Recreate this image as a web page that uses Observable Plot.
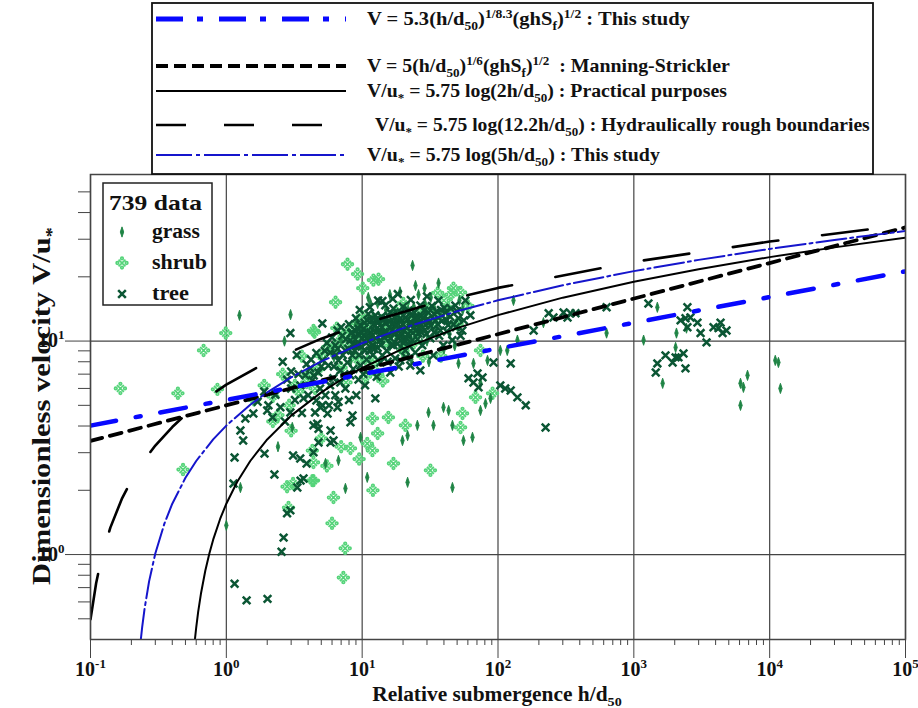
<!DOCTYPE html>
<html><head><meta charset="utf-8">
<script src="https://cdn.jsdelivr.net/npm/d3@7"></script>
<script src="https://cdn.jsdelivr.net/npm/@observablehq/plot@0.6"></script>
<style>
html,body{margin:0;padding:0;background:#fff;overflow:hidden;}
#wrap{position:relative;width:918px;height:708px;overflow:hidden;}
#overlay{position:absolute;left:0;top:0;pointer-events:none;}
text{white-space:pre;}
#wrap svg text.tl{font-family:'Liberation Serif','Times New Roman',serif !important;font-size:20px !important;font-weight:bold !important;fill:#111 !important;}
#wrap svg text.tl tspan.sp{font-size:13px !important;}
</style></head><body><div id="wrap"></div>
<script>
// ---------- data (h/d50, V/u*) ----------
const tree = [
[3.51,6.20],[3.82,6.91],[4.15,7.45],[4.30,6.55],[4.76,7.13],[5.09,8.12],[5.36,5.57],[5.64,7.69],[5.83,8.84],[6.13,6.69],[6.34,9.55],[6.68,8.12],[6.91,7.29],[7.14,10.6],[7.52,9.04],[7.78,7.94],[8.18,10.1],[8.47,8.57],[8.91,11.2],[9.21,9.55],[9.70,11.9],[10.0,10.3],[10.5,9.04],[10.9,12.5],[11.5,11.0],[11.9,9.55],[12.5,13.2],[12.9,11.5],[13.6,10.1],[14.1,8.57],[14.8,12.2],[15.6,10.6],[16.1,13.6],[17.0,9.55],[17.5,11.9],[18.5,10.3],[19.1,12.8],[20.1,11.2],[20.8,9.04],[21.9,13.9],[22.6,11.9],[23.4,10.1],[24.6,12.8],[25.9,10.9],[26.8,14.7],[27.7,9.55],[29.2,11.9],[30.7,13.6],[31.8,10.3],[33.4,8.57],[34.6,12.5],[36.4,15.5],[37.6,11.2],[39.6,9.55],[41.0,13.6],[43.1,11.9],[46.1,10.1],[48.5,14.7],[51.1,12.8],[54.6,11.2],[57.5,15.5],[62.6,13.2],
[8.18,6.91],[9.70,7.69],[11.5,7.29],[13.6,7.94],[16.1,7.13],[19.1,8.12],[22.6,7.69],[26.8,7.29],[7.52,6.00],[9.06,5.57],[10.5,6.20],[12.5,5.39],[24.6,8.84],[17.5,8.30],[14.8,14.7],[13.1,15.5],[6.34,5.57],[5.09,5.00],[4.60,5.27],[4.01,5.57],
[9.3,10.8],[10.2,11.4],[11.2,10.0],[12.1,12.0],[13.0,9.3],[14.4,11.0],[15.2,9.0],[16.6,11.2],[18.0,12.2],[19.6,10.7],[21.3,11.5],[23.0,13.2],[25.2,11.3],[28.0,12.8],[12.0,8.6],[10.8,8.2],[8.6,9.6],[7.2,8.6],[20,14.5],[17,14.2],
[5.5,9.8],[6.0,10.4],[6.6,9.2],[7.0,11.6],[7.6,10.2],[8.0,12.0],[8.4,11.0],[8.8,9.0],[9.0,12.8],[9.5,8.6],[9.9,10.9],[10.4,12.2],[10.7,9.8],[11.1,13.4],[11.8,10.6],[12.3,9.2],[12.7,12.6],[13.3,11.2],[13.9,13.0],[14.6,10.4],[15.0,12.8],[15.9,11.6],[16.4,9.6],[17.3,12.9],[18.2,9.7],[18.8,11.4],[19.9,12.0],[20.5,10.1],[21.6,12.6],[22.2,9.5],[23.8,11.5],[24.2,13.6],[25.6,10.2],[26.3,12.2],[27.2,11.0],[28.6,13.9],[29.8,10.8],[31.2,12.3],[32.6,14.6],[33.9,11.0],[35.4,13.8],[36.9,10.6],[38.5,12.4],[40.2,14.3],[42.0,11.1],[44.5,13.0],[47.3,12.0],[50.0,13.8],[53.0,10.6],[56.0,12.5],
[8.3,10.9],[8.9,10.2],[9.4,11.4],[9.9,9.4],[10.3,10.6],[10.9,11.1],[11.3,9.0],[11.7,12.5],[12.2,11.2],[12.6,10.3],[13.1,12.2],[13.5,10.8],[14.0,11.6],[14.5,12.6],[15.1,11.0],[15.6,13.1],[16.2,10.3],[16.8,12.1],[17.4,11.0],[18.1,13.2],[18.7,10.6],[19.4,12.4],[20.2,9.8],[20.9,12.9],[21.8,10.8],[22.7,12.3],[23.6,10.9],[24.8,12.1],[26.0,11.6],[27.4,13.1],[29.0,11.3],[30.4,12.7],[32.0,11.8],[34.2,13.3],[36.0,12.0],[38.0,14.0],[41.5,12.6],[45.0,14.2],[49.0,11.6],[11.0,10.4],[12.4,11.8],[13.8,9.6],[15.8,12.3],[17.9,11.8],[19.2,13.6],[21.2,10.3],[23.3,12.0],[25.4,12.8],[7.9,9.2],[6.4,8.6],
[4.2,8.2],[4.6,8.8],[5.0,7.6],[5.3,9.0],[3.9,7.8],[4.4,6.9],[5.8,6.2],[6.2,7.6],[6.9,6.4],[7.4,7.0],[8.6,7.4],[9.4,6.6],[10.2,7.0],[12.8,6.8],[15.4,8.0],[18.6,7.6],[21.0,8.4],[3.4,7.0],[3.0,6.0],[3.7,5.4],[4.9,6.0],[5.7,5.0],[6.7,5.2],[8.0,5.3],
[9.6,14.0],[11.4,14.4],[16.8,15.8],[22.8,15.6],[30.0,16.2],[18.3,16.6],
[2.96,10.9],[5.09,12.1],[6.58,11.2],[14.1,15.4],[4.94,4.89],[5.56,4.58],[6.58,4.89],[8.49,4.48],[8.20,4.16],[4.38,4.03],[4.77,3.88],[5.85,3.81],[4.38,3.01],[4.77,3.35],[5.85,3.35],[6.15,3.42],[3.52,2.22],
[60.7,6.69],[66.0,6.40],[71.9,6.07],[76.9,6.76],[70.7,7.06],[104,6.20],[113,6.00],[124,5.87],[139,5.45],[160,5.00],[224,3.94],[124,7.86],[92.7,7.94],[236,13.5],[256,12.9],[304,13.6],[342,13.5],[325,12.9],[372,13.5],[183,11.2],
[630,14.4],[1280,15.0],[2480,14.4],[2210,12.5],[2400,12.8],[2610,12.9],[2940,12.2],[3100,10.9],[3430,9.86],[2480,11.6],[3860,11.6],[4350,12.2],[4500,10.9],[4810,11.2],[4200,11.5],[1710,8.57],[1930,7.94],[2130,8.39],[2320,8.75],[2030,8.39],[1490,7.86],[1450,7.13],[2400,7.45],
[1.15,2.85],[1.91,2.97],[2.26,2.37],[1.13,2.15],[1.15,0.73],[1.41,0.61],[2.01,0.62],[2.64,1.20],[2.55,1.03],[2.80,1.56],[2.96,1.61],[3.33,2.06],[3.70,2.27],[3.10,2.91],[3.50,2.82],[1.27,3.81],[1.33,3.42],[1.38,4.34],[1.58,4.58],[2.00,4.73],[2.04,5.00],[2.19,4.39],[2.96,4.63],[4.50,4.63],[4.67,4.10],[3.90,2.67],[2.6,8.0],[3.0,7.2],[2.8,6.6],[3.3,8.6],
[1.7,5.2],[2.3,5.6],[2.5,4.9],[1.9,5.8],[3.2,5.3],[3.6,4.6],[2.7,4.2]
];
const shrub = [
[7.80,22.9],[6.37,15.2],[0.99,10.9],[4.46,11.0],[9.25,20.6],[12.1,19.3],[13.2,19.5],[10.1,17.7],[47.0,17.7],[53.0,16.9],[20.1,15.0],[4.38,11.2],[11.9,4.34],[15.6,4.39],[20.8,4.03],[13.0,3.69],[54.8,4.58],[53.0,3.94],[10.9,3.31],[11.9,3.07],[17.0,2.67],[31.8,2.48],[8.20,3.14],[6.15,1.85],[4.38,2.22],[74.3,9.04],[68.3,5.45],[91.2,5.69],[0.68,9.04],[0.44,5.69],[0.86,5.94],[0.48,2.50],[2.87,1.66],[2.80,2.08],[3.10,2.15],[4.30,2.22],[4.30,3.07],[4.38,2.70],[0.166,6.00],[7.27,0.78],[7.5,1.07],
[8.0,9.5],[9.0,10.5],[10.5,11.0],[12.0,10.0],[6.0,9.0],[5.0,8.5],[7.0,7.5],[14,12.5],[16,11.5],[18,13.5],[22,12.5],[25,11.0],[30,14.0],[35,13.0],[40,15.5],[45,16.5],[4.0,7.0],[3.6,8.5],[4.5,6.0],[11,8.0],[13,7.0],[20,9.0],[28,8.5],[38,8.5],[50,12.0],[6.5,11.5],[3.2,6.2],[2.6,7.0],[2.2,5.5],[1.9,6.2],[1.6,5.3],[2.4,4.5],[3.0,3.8],[5.0,3.5],[7.0,3.2],[9.5,2.8],[12,2.0],[6.0,1.4],[5.5,2.6],
[8.8,11.8],[10.0,13.0],[11.0,12.0],[7.8,11.0],[9.2,8.2],[12.4,8.0],[15.0,10.0],[17.8,10.8],[21.0,11.0],[24.0,9.8],[26.0,13.5],[33.0,12.0],[6.8,10.0],[5.6,9.4],[4.8,7.4],[3.9,6.4],[3.4,5.8],[2.9,5.0],[2.2,4.2],[7.6,6.4],[10.6,6.8],[14.2,6.5],[43,14.2],[60,14.6],[36,16.8]
];
const grass = [
[1.25,13.2],[2.97,13.3],[2.68,10.0],[23.5,22.6],[24.7,18.2],[28.8,17.7],[36.5,18.7],[11.1,16.0],[11.5,15.0],[30.8,4.63],[39.7,4.89],[43.3,4.73],[46.2,4.03],[74.3,4.73],[33.5,4.03],[25.5,4.03],[19.8,3.42],[21.6,3.61],[55.7,3.42],[64.9,3.54],[9.73,3.54],[10.9,2.30],[21.6,2.18],[46.2,2.06],[7.53,2.04],[6.69,2.76],[5.37,2.67],[104,9.04],[117,9.04],[66,7.86],[83.7,8.12],[51.2,7.86],[88.1,5.39],[80.9,5.10],[74.3,6.34],[139,10.1],[216,12.2],[130,15.5],[1.27,2.06],[1.0,1.37],[3.06,3.94],[2.4,3.2],
[630,10.9],[1490,14.4],[2440,11.5],[2060,10.9],[1180,10.1],[2030,9.34],[1630,6.34],[6100,6.34],[6410,6.07],[6870,6.91],[6100,5.0],[11000,8.12],[11600,7.94],[12000,6.0],
[12,13],[15,14],[18,11],[20,13.5],[24,14.5],[27,12],[32,16],[9,12],[7,10],[16,9.5],[30,10],[42,12.5],[55,14],[22,10.5],[14,9.8],[10,9.0],[26,16.5],[19,17],[35,11],[48,9.5],
[9.8,11.8],[13.6,12.4],[17.6,13.0],[21.8,14.0],[25.8,13.0],[29.0,15.0],[34.0,14.2],[38.0,13.2],[44.0,10.8],[52.0,15.5],[13.0,15.0],[16.0,16.5],[11.6,9.4],[8.2,8.0],[19.0,9.2],[6.2,8.4],[27.5,9.8],[40.0,9.2],[23.0,8.2],[31.0,8.0]
];
// curves (values of the plotted relations)
const curvePower = [[0.1,4.016],[100000,21.22]];                 // V = 5.3(h/d50)^(1/8.3)(ghSf)^(1/2)
const curveManning = [[0.1,3.406],[100000,34.07]];               // V = 5(h/d50)^(1/6)(ghSf)^(1/2)
const curvePractical = [[0.587,0.40],[0.6,0.455],[0.62,0.537],[0.65,0.655],[0.7,0.840],[0.75,1.012],[0.8,1.174],[0.9,1.468],[1,1.731],[1.2,2.186],[1.5,2.743],[2,3.462],[3,4.475],[5,5.75],[7,6.590],[10,7.481],[20,9.212],[50,11.5],[100,13.231],[300,15.974],[1000,18.981],[3000,21.724],[10000,24.731],[30000,27.474],[100000,30.481]];
const curveRough = [[0.1,0.497],[0.11,0.734],[0.12,0.952],[0.14,1.337],[0.17,1.822],[0.2,2.227],[0.25,2.785],[0.3,3.240],[0.4,3.958],[0.5,4.515],[0.7,5.356],[1,6.247],[2,7.978],[5,10.265],[10,11.997],[30,14.740],[100,17.747],[1000,23.497],[10000,29.247],[100000,34.997]];
const curveLog5 = [[0.235,0.403],[0.24,0.456],[0.25,0.557],[0.27,0.749],[0.3,1.012],[0.35,1.397],[0.4,1.731],[0.5,2.288],[0.6,2.743],[0.8,3.462],[1,4.019],[1.5,5.032],[2,5.75],[3,6.763],[5,8.038],[10,9.769],[20,11.5],[50,13.788],[100,15.519],[300,18.263],[1000,21.269],[3000,24.013],[10000,27.019],[30000,29.763],[100000,32.769]];
// ticks
const xMajor = [0.1,1,10,100,1000,10000,100000];
const yMajor = [1,10];
const xMinor = [0.2,0.3,0.4,0.5,0.6,0.7,0.8,0.9,2,3,4,5,6,7,8,9,20,30,40,50,60,70,80,90,200,300,400,500,600,700,800,900,2000,3000,4000,5000,6000,7000,8000,9000,20000,30000,40000,50000,60000,70000,80000,90000];
const yMinor = [0.5,0.6,0.7,0.8,0.9,2,3,4,5,6,7,8,9,20,30,40,50];
// legend texts
const legendLabels = [
 "V = 5.3(h/d_{50})^{1/8.3}(ghS_{f})^{1/2} : This study",
 "V = 5(h/d_{50})^{1/6}(ghS_{f})^{1/2}  : Manning-Strickler",
 "V/u_{*} = 5.75 log(2h/d_{50}) : Practical purposes",
 "V/u_{*} = 5.75 log(12.2h/d_{50}) : Hydraulically rough boundaries",
 "V/u_{*} = 5.75 log(5h/d_{50}) : This study"
];
const groupNames = ["grass","shrub","tree"];
const dataTitle = "739 data";
const xTitle = "Relative submergence h/d_{50}";
const yTitle = "Dimensionless velocity V/u_{*}";

// ---------- styles ----------
const SERIF = "'Liberation Serif','Times New Roman',serif";
const C_TREE = "#0b5634", C_GRASS = "#1f8445", C_SHRUB = "#55d47a";
const BLUE1 = "#0808ff", BLUE2 = "#1515cc";

const grassSymbol = {draw(ctx, size){ const r = Math.sqrt(size/Math.PI);
  ctx.moveTo(0,-1.35*r); ctx.lineTo(0.45*r,0); ctx.lineTo(0,1.35*r); ctx.lineTo(-0.45*r,0); ctx.closePath(); }};
const shrubSymbol = {draw(ctx, size){ const r = Math.sqrt(size/Math.PI), a = 0.75*r, d = 0.28*r;
  ctx.moveTo(-a,-a); ctx.lineTo(a,a); ctx.moveTo(-a,a); ctx.lineTo(a,-a);
  for (const [px,py] of [[0,-r],[0,r],[-r,0],[r,0]]) { ctx.moveTo(px+d,py); ctx.arc(px,py,d,0,2*Math.PI); } }};
const treeSymbol = {draw(ctx, size){ const r = Math.sqrt(size/Math.PI), a = 0.8*r;
  ctx.moveTo(-a,-a); ctx.lineTo(a,a); ctx.moveTo(-a,a); ctx.lineTo(a,-a); }};

const fmt = d => "10^" + Math.round(Math.log10(d));
const X = d => d[0], Y = d => d[1];

const chart = Plot.plot({
  width: 918, height: 708,
  marginLeft: 90, marginRight: 13, marginTop: 174, marginBottom: 69,
  x: {type: "log", domain: [0.1, 1e5]},
  y: {type: "log", domain: [0.4, 60.3]},
  style: {fontFamily: SERIF, fontSize: "18px", fontWeight: "bold", color: "#151515", background: "white", overflow: "visible"},
  marks: [
    Plot.gridX({ticks: xMajor, stroke: "#444", strokeOpacity: 1, strokeWidth: 1.2}),
    Plot.gridY({ticks: yMajor, stroke: "#444", strokeOpacity: 1, strokeWidth: 1.2}),
    Plot.axisX({ticks: xMinor, tickSize: 6, tickFormat: () => "", label: null, stroke: "#444"}),
    Plot.axisX({ticks: xMajor, tickSize: 19, tickPadding: 3, tickFormat: fmt, label: null, fontSize: 20, fontWeight: "bold", stroke: "#444"}),
    Plot.axisY({ticks: yMinor, tickSize: 12, tickFormat: () => "", label: null, stroke: "#444"}),
    Plot.axisY({ticks: yMajor, tickSize: 25, tickPadding: 1, tickFormat: fmt, label: null, fontSize: 20, fontWeight: "bold", stroke: "#444"}),
    Plot.dot(shrub, {x: X, y: Y, symbol: shrubSymbol, r: 4.6, stroke: C_SHRUB, strokeWidth: 1.7, fill: "none"}),
    Plot.dot(grass, {x: X, y: Y, symbol: grassSymbol, r: 3.8, fill: C_GRASS, stroke: C_GRASS, strokeWidth: 0.9}),
    Plot.dot(tree, {x: X, y: Y, symbol: treeSymbol, r: 4.8, stroke: C_TREE, strokeWidth: 2.5, fill: "none"}),
    Plot.line(curveRough, {x: X, y: Y, stroke: "#000", strokeWidth: 2.6, strokeDasharray: "46,44", clip: true}),
    Plot.line(curvePractical, {x: X, y: Y, stroke: "#000", strokeWidth: 2, clip: true}),
    Plot.line(curveManning, {x: X, y: Y, stroke: "#000", strokeWidth: 3.8, strokeDasharray: "12,8", clip: true}),
    Plot.line(curveLog5, {x: X, y: Y, stroke: BLUE2, strokeWidth: 2, strokeDasharray: "30,4,3,4", clip: true}),
    Plot.line(curvePower, {x: X, y: Y, stroke: BLUE1, strokeWidth: 4.5, strokeDasharray: "26,20,5,20", clip: true}),
    Plot.frame({stroke: "#444", strokeWidth: 1.5})
  ]
});
const wrap = document.getElementById("wrap");
wrap.appendChild(chart);

// superscript tick labels
const NS = "http://www.w3.org/2000/svg";
chart.querySelectorAll('[aria-label$="tick label"] text').forEach(t => {
  const s = t.textContent;
  if (!s.includes("^")) return;
  const [b, e] = s.split("^");
  t.textContent = "";
  t.classList.add("tl");
  const t1 = document.createElementNS(NS, "tspan"); t1.textContent = b;
  const t2 = document.createElementNS(NS, "tspan"); t2.textContent = e;
  t2.setAttribute("dy", "-8"); t2.classList.add("sp");
  t.appendChild(t1); t.appendChild(t2);
});

// ---------- overlay: legends and titles ----------
const ov = d3.select(wrap).append("svg").attr("id", "overlay").attr("width", 918).attr("height", 708)
  .attr("font-family", SERIF).attr("font-weight", "bold").attr("fill", "#111");

function rich(parent, str, size, anchor) {
  const t = parent.append("text").attr("font-size", size).attr("text-anchor", anchor || "start");
  let off = 0;
  for (const tok of str.split(/(_\{[^}]*\}|\^\{[^}]*\})/)) {
    if (!tok) continue;
    const mode = tok.startsWith("_{") ? "sub" : tok.startsWith("^{") ? "sup" : "";
    const txt = mode ? tok.slice(2, -1) : tok;
    const target = mode === "sub" ? 0.26 * size : mode === "sup" ? -0.4 * size : 0;
    const ts = t.append("tspan").text(txt).attr("dy", target - off);
    if (mode) ts.attr("font-size", 0.66 * size);
    off = target;
  }
  return t;
}
function fitted(str, size, x, y, width, anchor, rot) {
  const g = ov.append("g");
  const t = rich(g, str, size, anchor);
  const w = t.node().getBBox().width;
  const k = width / w;
  g.attr("transform", `translate(${x},${y})` + (rot ? ` rotate(${rot})` : "") + ` scale(${k},1)`);
  return g;
}

// top legend box
ov.append("rect").attr("x", 152).attr("y", 3).attr("width", 721).attr("height", 171)
  .attr("fill", "white").attr("stroke", "#111").attr("stroke-width", 1.8);
const rowY = [19, 66, 91, 125, 155];
const rowTextX = [367, 367, 367, 375, 367];
const rowTextW = [323, 363, 360, 495, 293];
const rowStyle = [
  {stroke: BLUE1, w: 5, dash: "27,14,6,16"},
  {stroke: "#000", w: 4, dash: "12,6"},
  {stroke: "#000", w: 2, dash: null},
  {stroke: "#000", w: 2.6, dash: "30,38"},
  {stroke: BLUE2, w: 2.2, dash: "36,4,4,4"}
];
legendLabels.forEach((lab, i) => {
  const s = rowStyle[i];
  const ln = ov.append("line").attr("x1", 156).attr("x2", 346).attr("y1", rowY[i]).attr("y2", rowY[i])
    .attr("stroke", s.stroke).attr("stroke-width", s.w);
  if (s.dash) ln.attr("stroke-dasharray", s.dash);
  fitted(lab, 18, rowTextX[i], rowY[i] + 6, rowTextW[i], "start");
});

// inner legend
ov.append("rect").attr("x", 103).attr("y", 183).attr("width", 109).attr("height", 122)
  .attr("fill", "white").attr("stroke", "#222").attr("stroke-width", 1.5);
fitted(dataTitle, 22, 109, 210, 93, "start");
const symDefs = [
  {sym: grassSymbol, r: 3.8, fill: C_GRASS, stroke: C_GRASS, sw: 0.9},
  {sym: shrubSymbol, r: 4.6, fill: "none", stroke: C_SHRUB, sw: 1.7},
  {sym: treeSymbol, r: 4.8, fill: "none", stroke: C_TREE, sw: 2.5}
];
const grpY = [232, 263, 294], grpW = [48, 55, 37];
groupNames.forEach((n, i) => {
  const s = symDefs[i];
  ov.append("path").attr("transform", `translate(122,${grpY[i]})`)
    .attr("d", d3.symbol().type(s.sym).size(s.r * s.r * Math.PI)())
    .attr("fill", s.fill).attr("stroke", s.stroke).attr("stroke-width", s.sw);
  fitted(n, 20, 152, grpY[i] + 6, grpW[i], "start");
});

// axis titles
fitted(xTitle, 20, 497, 701, 250, "middle");
fitted(yTitle, 25, 50, 406, 358, "middle", -90);
</script></body></html>
